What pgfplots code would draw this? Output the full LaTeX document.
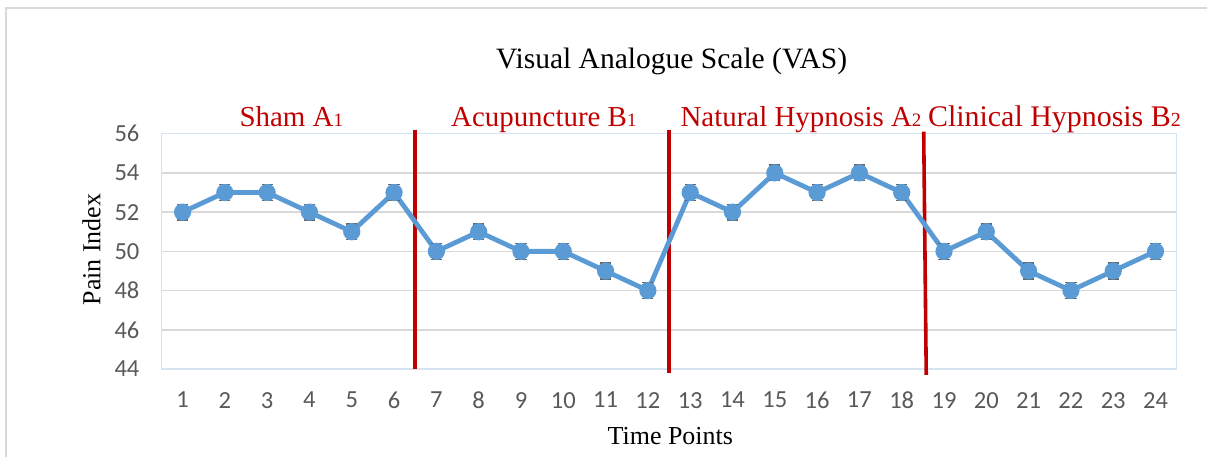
\documentclass[border=0pt]{standalone}
\usepackage{fontspec}
\setmainfont{Liberation Serif}
\newfontfamily\carlito{Carlito}
\usepackage{pgfplots}
\pgfplotsset{compat=1.18}
\definecolor{vasblue}{RGB}{91,155,213}
\definecolor{phasered}{RGB}{192,0,0}
\definecolor{ticklabgray}{RGB}{89,89,89}
\definecolor{gridgray}{RGB}{217,217,217}
\definecolor{framegray}{RGB}{217,217,217}
\definecolor{plotframe}{RGB}{214,228,242}

\begin{document}
\begin{tikzpicture}
\begin{axis}[
  scale only axis, width=508.9pt, height=118pt,
  xmin=0.5, xmax=24.5, ymin=44, ymax=56,
  xtick={1,...,24}, ytick={44,46,...,56},
  major tick length=0pt,
  axis line style={draw=plotframe, line width=0.8pt},
  ymajorgrids, grid style={draw=gridgray, line width=0.8pt},
  /pgf/number format/assume math mode=true,
  tick label style={font=\carlito\fontsize{12.3}{14}\selectfont, text=ticklabgray},
  yticklabel style={xshift=-7.5pt},
  xticklabel style={yshift=-8pt},
  clip=false,
]
% phase boundaries
\draw[phasered, line width=1.8pt] (axis cs:6.5,56.2) -- (axis cs:6.5,44.0);
\draw[phasered, line width=1.8pt] (axis cs:12.5,56.2) -- (axis cs:12.5,43.8);
\draw[phasered, line width=1.8pt] (axis cs:18.52,56.1) -- (axis cs:18.58,43.7);
% pain index over time points
\addplot[vasblue, line width=2.4pt, mark=*, mark size=3.1pt,
  mark options={fill=vasblue, draw=vasblue},
  error bars/.cd, y dir=both, y fixed=0.4,
  error bar style={draw=black!60, line width=0.6pt},
  error mark options={rotate=90, mark size=2.8pt, draw=black!60, line width=0.7pt}]
  coordinates {
  (1,52) (2,53) (3,53) (4,52) (5,51) (6,53)
  (7,50) (8,51) (9,50) (10,50) (11,49) (12,48)
  (13,53) (14,52) (15,54) (16,53) (17,54) (18,53)
  (19,50) (20,51) (21,49) (22,48) (23,49) (24,50)};
% titles and labels
\node[anchor=base, font=\fontsize{14.8}{16}\selectfont] at (axis cs:12.56,59.3) {Visual Analogue Scale (VAS)};
\node[anchor=base, text=phasered, font=\fontsize{14.5}{16}\selectfont] at (axis cs:3.57,56.36) {Sham A{\fontsize{9.5}{10}\selectfont 1}};
\node[anchor=base, text=phasered, font=\fontsize{14.5}{16}\selectfont] at (axis cs:9.54,56.36) {Acupuncture B{\fontsize{9.5}{10}\selectfont 1}};
\node[anchor=base, text=phasered, font=\fontsize{14.5}{16}\selectfont] at (axis cs:15.62,56.36) {Natural Hypnosis A{\fontsize{9.5}{10}\selectfont 2}};
\node[anchor=base, text=phasered, font=\fontsize{15}{16}\selectfont] at (axis cs:21.61,56.36) {Clinical Hypnosis B{\fontsize{10}{10}\selectfont 2}};
\node[rotate=90, anchor=center, font=\fontsize{13}{15}\selectfont] at (axis cs:-1.15,50.1) {Pain Index};
\node[anchor=base, font=\fontsize{13}{15}\selectfont] at (axis cs:12.53,40.14) {Time Points};
\end{axis}
% outer chart frame and page size
\draw[framegray, line width=1pt] (current axis.south west) ++(-77.9pt,-44pt) -- ++(0pt,225pt) -- ++(602pt,0pt);
\path (current axis.south west) ++(-80.9pt,-43.5pt) rectangle ++(604pt,228.5pt);
\end{tikzpicture}
\end{document}
